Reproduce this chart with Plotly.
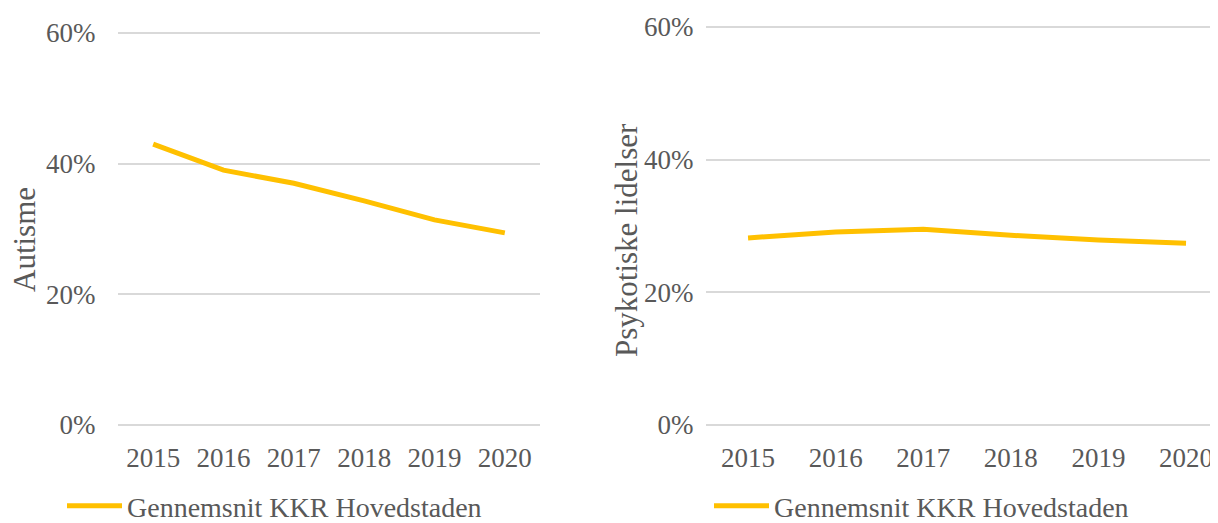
import plotly.graph_objects as go

years = ["2015", "2016", "2017", "2018", "2019", "2020"]
autisme = [0.430, 0.390, 0.370, 0.343, 0.314, 0.294]
psykotiske = [0.282, 0.291, 0.295, 0.286, 0.279, 0.274]
series_name = "Gennemsnit KKR Hovedstaden"
y_ticks = [0, 0.2, 0.4, 0.6]
y_ticktext = ["0%", "20%", "40%", "60%"]

# page body has an 8px margin, so the figure is drawn 8px in from the window corner
OFF = 8
W, H = 1218 - OFF, 523 - OFF
LINE = "#FFC000"
GRID = "#D9D9D9"
TXT = "#595959"
FONT = "Liberation Serif, Times New Roman, serif"

fig = go.Figure()
fig.add_trace(go.Scatter(x=years, y=autisme, mode="lines", name=series_name,
                         line=dict(color=LINE, width=5), xaxis="x", yaxis="y",
                         legend="legend", showlegend=True))
fig.add_trace(go.Scatter(x=years, y=psykotiske, mode="lines", name=series_name,
                         line=dict(color=LINE, width=5), xaxis="x2", yaxis="y2",
                         legend="legend2", showlegend=True))

def px_x(p):
    return (p - OFF) / W

def px_y(p):
    return (H - (p - OFF)) / H

common_x = dict(type="category", showgrid=False, zeroline=False, showline=False,
                automargin=False,
                ticks="outside", ticklen=6, tickcolor="rgba(0,0,0,0)",
                tickfont=dict(family=FONT, size=27, color=TXT))
common_y = dict(range=[-0.004, 0.604], tickvals=y_ticks, ticktext=y_ticktext,
                showgrid=True, gridcolor=GRID, gridwidth=2, zeroline=False,
                automargin=False,
                showline=False, ticks="outside", tickcolor="rgba(0,0,0,0)",
                tickfont=dict(family=FONT, size=27, color=TXT))

def dom_y(top_px, bot_px):
    span = bot_px - top_px
    per = span / 0.6
    top = top_px - 0.004 * per
    bot = bot_px + 0.004 * per
    return [px_y(bot), px_y(top)]

legend_common = dict(xanchor="left", yanchor="middle",
                     font=dict(family=FONT, size=28, color=TXT), itemwidth=55,
                     bgcolor="rgba(0,0,0,0)", orientation="h")

fig.update_layout(
    template="none",
    width=W, height=H,
    margin=dict(l=0, r=0, t=0, b=0, autoexpand=False),
    paper_bgcolor="white", plot_bgcolor="white",
    showlegend=True,
    xaxis=dict(domain=[px_x(118), px_x(540)], range=[-0.5, 5.5], anchor="y", **common_x),
    yaxis=dict(domain=dom_y(33, 425), anchor="x", ticklen=16, **common_y),
    xaxis2=dict(domain=[px_x(706), 1.0], range=[-0.48, 5.365], anchor="y2", **common_x),
    yaxis2=dict(domain=dom_y(27, 425), anchor="x2", ticklen=6, **common_y),
    legend=dict(x=px_x(62), y=px_y(506), **legend_common),
    legend2=dict(x=px_x(709), y=px_y(506), **legend_common),
    annotations=[
        dict(text="Autisme", textangle=-90, x=px_x(24), y=px_y(240),
             xanchor="center", yanchor="middle",
             xref="paper", yref="paper", showarrow=False,
             font=dict(family=FONT, size=31, color=TXT)),
        dict(text="Psykotiske lidelser", textangle=-90, x=px_x(626), y=px_y(240),
             xanchor="center", yanchor="middle",
             xref="paper", yref="paper", showarrow=False,
             font=dict(family=FONT, size=31, color=TXT)),
    ],
)

fig.write_html("out.html")
